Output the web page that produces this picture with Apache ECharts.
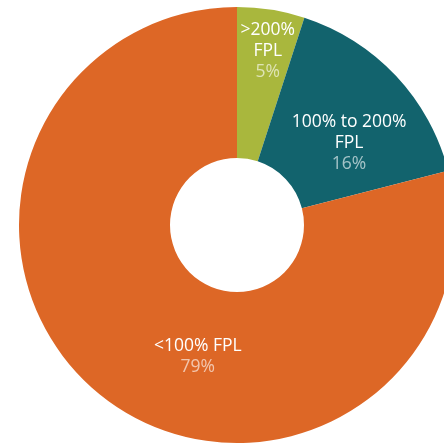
<!DOCTYPE html>
<html>
<head>
<meta charset="utf-8">
<script src="https://cdn.jsdelivr.net/npm/echarts@6/dist/echarts.min.js"></script>
<style>
  html, body { margin: 0; padding: 0; background: #fff; }
  #chart { width: 444px; height: 444px; }
</style>
</head>
<body>
<div id="chart"></div>
<script>
var categories = ['>200%\nFPL', '100% to 200%\nFPL', '<100% FPL'];
var values = [5, 16, 79];
var colors = ['#a9b73d', '#12636d', '#dd6726'];
// label nudges relative to the default inside position
var labelShift = [[8, -30], [6, 18], [50, 17]];

var chart = echarts.init(document.getElementById('chart'));

var data = [];
for (var i = 0; i < categories.length; i++) {
  data.push({ name: categories[i], value: values[i], itemStyle: { color: colors[i] } });
}

chart.setOption({
  animation: false,
  series: [{
    type: 'pie',
    center: [237, 225],
    radius: [67, 218],
    startAngle: 90,
    clockwise: true,
    avoidLabelOverlap: false,
    itemStyle: { borderWidth: 0 },
    label: {
      show: true,
      position: 'inside',
      fontFamily: 'Open Sans',
      formatter: function(p) {
        return '{n|' + p.name.split('\n').join('}\n{n|') + '}\n{v|' + p.value + '%}';
      },
      rich: {
        n: { color: '#ffffff', fontSize: 17.5, lineHeight: 21, fontFamily: 'Open Sans', align: 'center' },
        v: { color: 'rgba(255,255,255,0.62)', fontSize: 17.5, lineHeight: 21, fontFamily: 'Open Sans', align: 'center' }
      }
    },
    labelLine: { show: false },
    labelLayout: function(params) {
      var s = labelShift[params.dataIndex];
      return { dx: s[0], dy: s[1] };
    },
    data: data
  }]
});
</script>
</body>
</html>
